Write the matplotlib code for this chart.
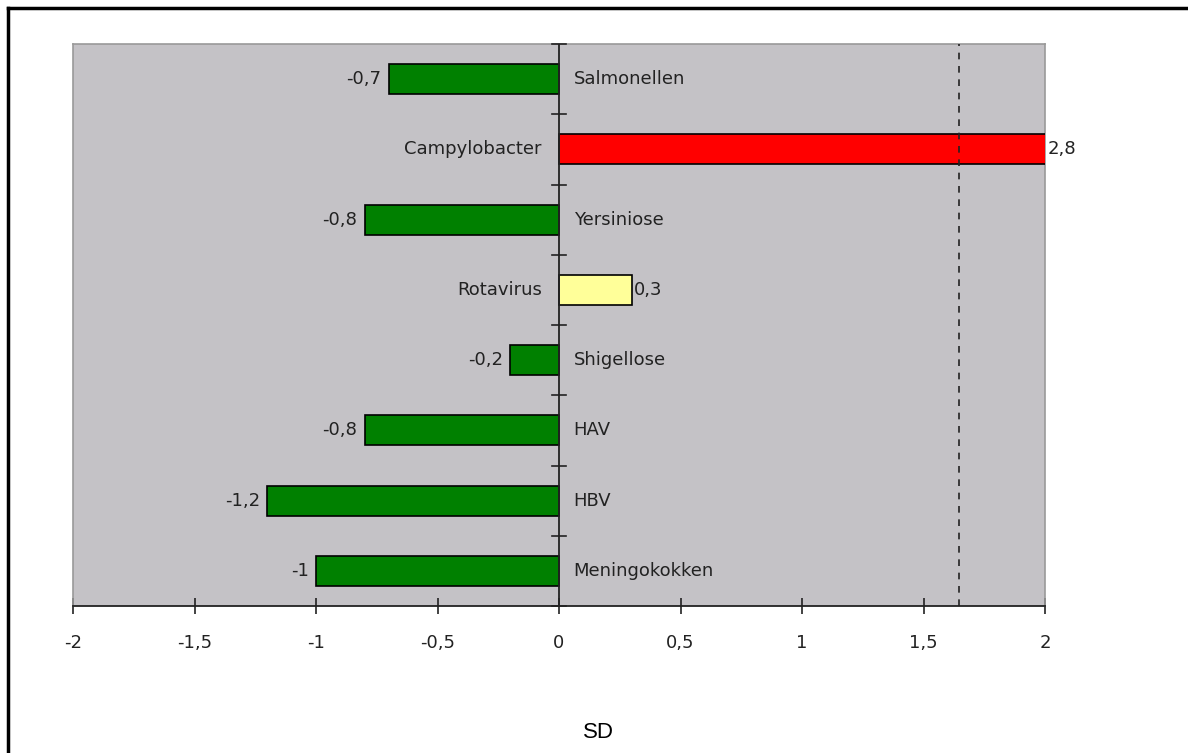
import matplotlib.pyplot as plt
from matplotlib.lines import Line2D

# data, top to bottom
names = ['Salmonellen', 'Campylobacter', 'Yersiniose', 'Rotavirus',
         'Shigellose', 'HAV', 'HBV', 'Meningokokken']
sd = [-0.7, 2.8, -0.8, 0.3, -0.2, -0.8, -1.2, -1.0]
labels = ['-0,7', '2,8', '-0,8', '0,3', '-0,2', '-0,8', '-1,2', '-1']
colors = ['#008000', '#FF0000', '#008000', '#FFFF99',
          '#008000', '#008000', '#008000', '#008000']
xticks = [-2, -1.5, -1, -0.5, 0, 0.5, 1, 1.5, 2]
xticklabels = ['-2', '-1,5', '-1', '-0,5', '0', '0,5', '1', '1,5', '2']
threshold = 1.645

plt.rcParams['font.family'] = ['DejaVu Sans']
txt = dict(fontsize=13, color='#222222', zorder=6)

fig = plt.figure(figsize=(11.88, 7.53), dpi=100)
ax = fig.add_axes([73/1188, 1-606/753, 972/1188, 562/753])
ax.set_facecolor('#C4C2C6')

n = len(names)
ypos = list(range(n))[::-1]
ax.barh(ypos, sd, height=0.43, color=colors, edgecolor='black', linewidth=1.2, zorder=3)
ax.set_xlim(-2, 2)
ax.set_ylim(-0.5, n - 0.5)

# threshold line
ax.axvline(threshold, color='#222222', linestyle=(0, (4, 4)), linewidth=1.2, zorder=4)

# value axis at 0
ax.axvline(0, color='#222222', linewidth=1.3, zorder=5)
for b in range(n + 1):
    ax.plot([-0.03, 0.03], [b - 0.5, b - 0.5], color='#222222', lw=1.2, zorder=5,
            clip_on=False)

for y, v, lab, nm in zip(ypos, sd, labels, names):
    vx = min(v, 2)
    if v < 0:
        ax.text(vx - 0.03, y, lab, ha='right', va='center', **txt)
        ax.text(0.06, y, nm, ha='left', va='center', **txt)
    else:
        ax.text(vx + 0.01, y, lab, ha='left', va='center', clip_on=False, **txt)
        ax.text(-0.07, y, nm, ha='right', va='center', **txt)

ax.set_yticks([])
ax.set_xticks(xticks)
ax.set_xticklabels(xticklabels, fontsize=13, color='#222222')
ax.tick_params(axis='x', direction='inout', length=12, width=1.2, color='#222222', pad=14)
for s in ['top', 'right', 'left']:
    ax.spines[s].set_color('#999999')
    ax.spines[s].set_linewidth(1.2)
ax.spines['bottom'].set_color('#222222')
ax.spines['bottom'].set_linewidth(1.3)

fig.text(598/1188, 1-732/753, 'SD', ha='center', va='center', fontsize=16,
         family='Liberation Sans')

# frame of the chart
fig.add_artist(Line2D([8/1188, 8/1188], [0, 1-8/753], transform=fig.transFigure,
                      color='black', lw=2.5))
fig.add_artist(Line2D([8/1188, 1], [1-8/753, 1-8/753], transform=fig.transFigure,
                      color='black', lw=2.5))

fig.savefig('out.png', dpi=100)
